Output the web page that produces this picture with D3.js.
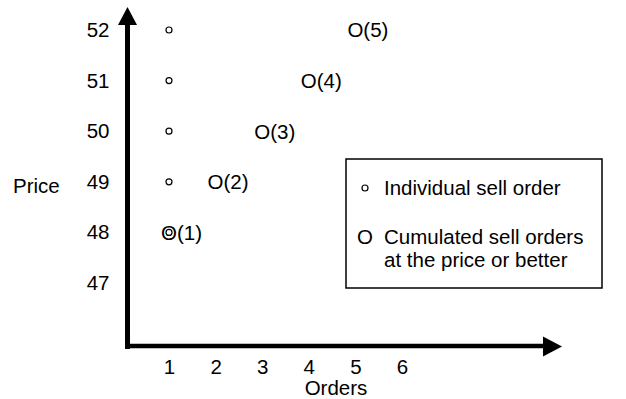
<!DOCTYPE html>
<html>
<head>
<meta charset="utf-8">
<script src="https://cdn.jsdelivr.net/npm/d3@7"></script>
<style>
  html, body { margin: 0; padding: 0; background: #fff; }
  svg { display: block; font-family: "Liberation Sans", Arial, Helvetica, sans-serif; }
</style>
</head>
<body>
<svg id="chart" width="626" height="399"></svg>
<script>
// Order book: individual sell orders at each price and the cumulated count
const prices = [48, 49, 50, 51, 52];
const individualOrders = [1, 1, 1, 1, 1];
const cumulatedOrders = [1, 2, 3, 4, 5];
const xTicks = [1, 2, 3, 4, 5, 6];
const yTicks = [47, 48, 49, 50, 51, 52];
const legendItems = ["Individual sell order", "Cumulated sell orders", "at the price or better"];

const svg = d3.select("#chart");
const FS = 20.5;

const x = d3.scaleLinear().domain([1, 6]).range([169, 402]);
const y = d3.scaleLinear().domain([47, 52]).range([283, 30]);

const originX = 127.5, originY = 346;

// Axis lines with arrowheads
svg.append("line")
  .attr("x1", originX).attr("y1", 349)
  .attr("x2", originX).attr("y2", 22)
  .attr("stroke", "#000").attr("stroke-width", 5);
svg.append("path")
  .attr("d", `M${originX},7 L${originX - 9.5},25 L${originX + 9.5},25 Z`)
  .attr("fill", "#000");

svg.append("line")
  .attr("x1", 125).attr("y1", originY)
  .attr("x2", 546).attr("y2", originY)
  .attr("stroke", "#000").attr("stroke-width", 4.5);
svg.append("path")
  .attr("d", `M562,${originY + 0.5} L543,${originY - 9.5} L543,${originY + 10.5} Z`)
  .attr("fill", "#000");

// Tick labels
const xAxis = svg.append("g")
  .attr("transform", `translate(0,${originY})`)
  .call(d3.axisBottom(x).tickValues(xTicks).tickSize(0).tickPadding(13).tickFormat(d3.format("d")));
xAxis.select(".domain").remove();
xAxis.selectAll("text").attr("font-size", FS).attr("font-family", null).attr("fill", "#000");

const yAxis = svg.append("g")
  .attr("transform", `translate(${originX},0)`)
  .call(d3.axisLeft(y).tickValues(yTicks).tickSize(0).tickPadding(18).tickFormat(d3.format("d")));
yAxis.select(".domain").remove();
yAxis.selectAll("text").attr("font-size", FS).attr("font-family", null).attr("fill", "#000");

// Axis titles
svg.append("text").attr("x", 13).attr("y", 193)
  .attr("font-size", FS).text("Price");
svg.append("text").attr("x", 336).attr("y", 395)
  .attr("font-size", FS).attr("text-anchor", "middle").text("Orders");

// Individual sell orders (small circles)
svg.append("g").selectAll("circle")
  .data(prices.map((p, i) => ({ p, n: individualOrders[i] })))
  .join("circle")
  .attr("cx", d => x(d.n))
  .attr("cy", d => y(d.p))
  .attr("r", 3)
  .attr("fill", "none")
  .attr("stroke", "#000")
  .attr("stroke-width", 1.2);

// Cumulated sell orders, labelled O(n)
svg.append("g").selectAll("text")
  .data(prices.map((p, i) => ({ p, n: cumulatedOrders[i] })))
  .join("text")
  .attr("x", d => x(d.n))
  .attr("y", d => y(d.p))
  .attr("dx", "-0.39em")
  .attr("dy", "0.36em")
  .attr("font-size", FS)
  .text(d => `O(${d.n})`);

// Legend
const lg = svg.append("g");
lg.append("rect")
  .attr("x", 346).attr("y", 159)
  .attr("width", 256).attr("height", 129)
  .attr("fill", "#fff").attr("stroke", "#000").attr("stroke-width", 1.5);
lg.append("circle")
  .attr("cx", 365).attr("cy", 188).attr("r", 3)
  .attr("fill", "none").attr("stroke", "#000").attr("stroke-width", 1.2);
lg.append("text").attr("x", 384).attr("y", 195).attr("font-size", FS).text(legendItems[0]);
lg.append("text").attr("x", 365).attr("y", 244).attr("font-size", FS)
  .attr("text-anchor", "middle").text("O");
lg.append("text").attr("x", 384).attr("y", 244).attr("font-size", FS).text(legendItems[1]);
lg.append("text").attr("x", 384).attr("y", 267).attr("font-size", FS).text(legendItems[2]);
</script>
</body>
</html>
